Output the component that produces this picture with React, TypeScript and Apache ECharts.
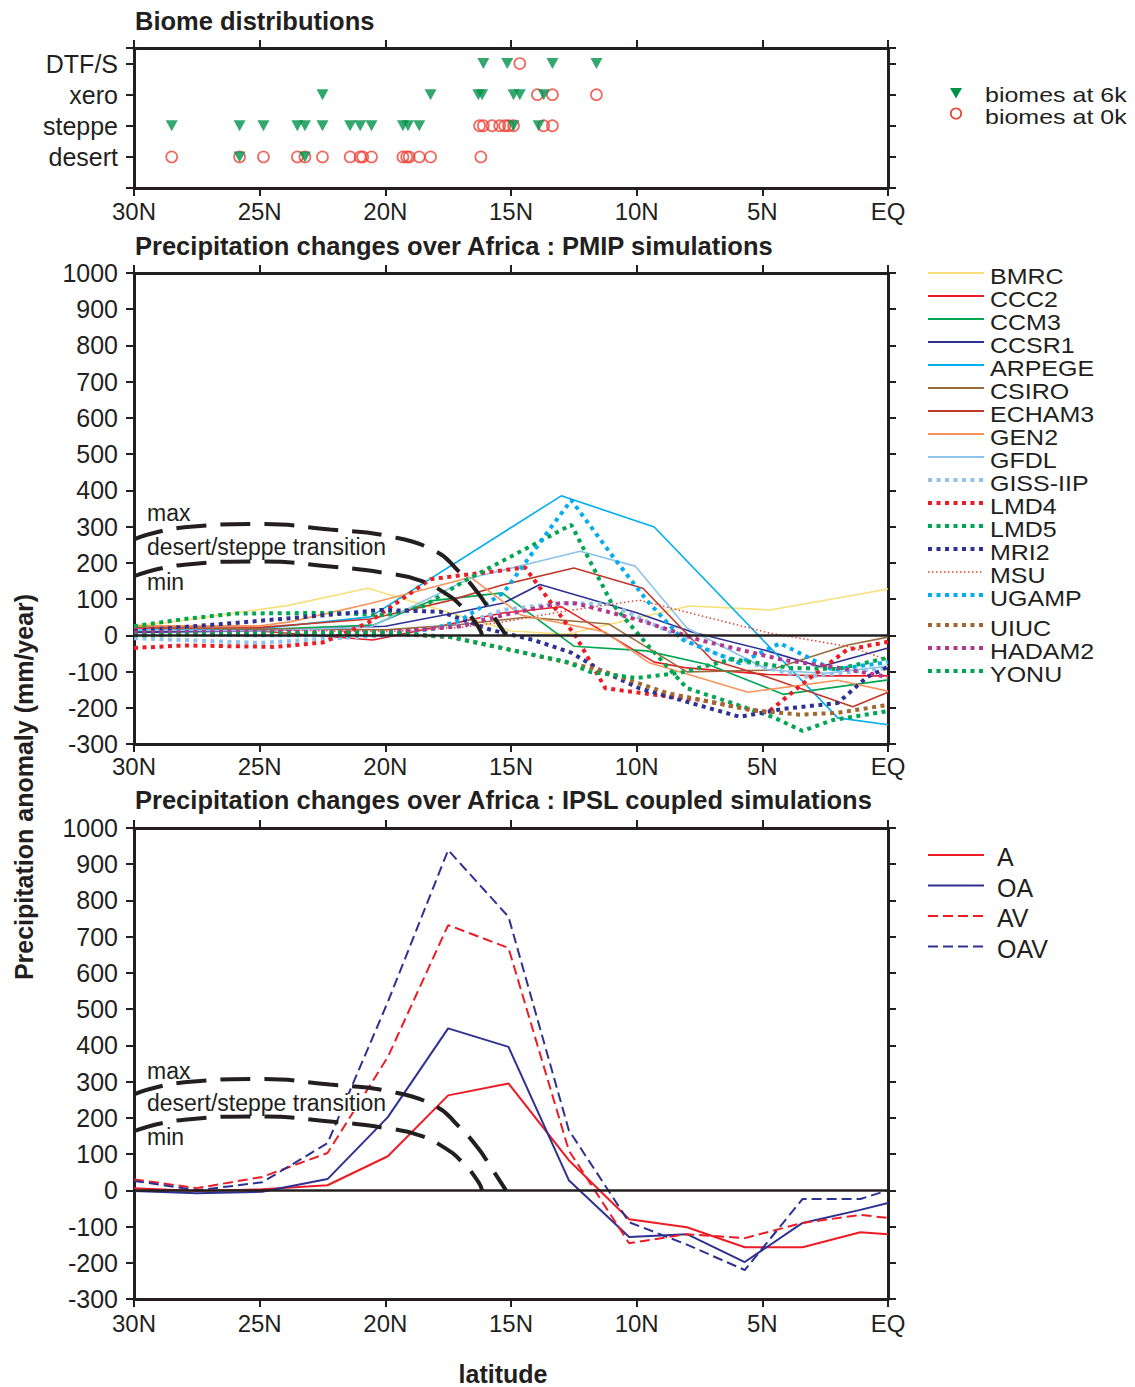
import React, { useEffect, useRef } from 'react';
import * as echarts from 'echarts';

// ---------- axis ticks / categories ----------
const BIOME_LEVELS = ['desert', 'steppe', 'xero', 'DTF/S'];
const LAT_LABEL = (v: number) => (v === 0 ? 'EQ' : v + 'N');

// ---------- top panel: latitude of each site, per biome level ----------
const DTFS_6K = [16.1, 15.15, 13.35, 11.6];
const DTFS_0K = [14.65];
const XERO_6K = [22.5, 18.2, 16.3, 16.15, 14.9, 14.65, 13.7];
const XERO_0K = [13.95, 13.35, 11.6];
const STEPPE_6K = [28.5, 25.8, 24.85, 23.5, 23.2, 22.5, 21.4, 21.0, 20.55, 19.3, 19.1, 18.65, 14.9, 13.9];
const STEPPE_0K = [16.25, 16.1, 15.75, 15.45, 15.25, 15.1, 14.9, 13.7, 13.35];
const DESERT_6K = [25.8, 23.2];
const DESERT_0K = [28.5, 25.8, 24.85, 23.5, 23.2, 22.5, 21.4, 21.0, 20.9, 20.55, 19.3, 19.15, 19.05, 18.65, 18.2, 16.2];

// ---------- middle panel: PMIP simulations [lat, mm/yr] ----------
const BMRC = [[30, 28], [28.7, 35], [23.9, 82], [20.7, 130], [15, 12], [12.8, 3], [7.9, 81], [4.7, 70], [1.6, 108], [0, 128]];
const CCC2 = [[30, 20], [25, 12], [20.5, -13], [18.5, 15], [15.4, 61], [13, 79], [9.3, -74], [8, -90], [4.8, -108], [2.5, -112], [0, -112]];
const CCM3 = [[30, 10], [25, 16], [20.5, 28], [18.2, 95], [15.35, 117], [12.5, -30], [9.6, -43], [7.1, -82], [4.17, -163], [0, -123]];
const CCSR1 = [[30, 8], [25, 12], [20, 25], [17.3, 61], [15.3, 89], [13.85, 140], [10, 62], [7.8, 9], [4.8, -43], [2.7, -87], [0, -35]];
const ARPEGE = [[30, 15], [25, 18], [20.6, 51], [13, 385], [9.3, 299], [2, -228], [0, -247]];
const CSIRO = [[30, 22], [25, 18], [20, 15], [17, 30], [14.4, 50], [11.1, 31], [8, -101], [4.7, -96], [1.6, -27], [0, -5]];
const ECHAM3 = [[30, 25], [25, 22], [20.6, 45], [17.5, 95], [15.35, 139], [12.5, 186], [9.75, 130], [7, -68], [4.8, -115], [1.4, -197], [0, -157]];
const GEN2 = [[30, 26], [25, 26], [23.8, 37], [20.6, 88], [16.6, 160], [14.6, 56], [11.25, 9], [9.5, -76], [5.57, -157], [2, -124], [0, -154]];
const GFDL = [[30, 15], [25, 12], [20.6, 23], [16.6, 158], [12.25, 232], [10.06, 191], [8, 20], [4.8, -95], [2.5, -105], [0, -85]];
const GISS_IIP = [[30, -8], [25, -21], [20, 0], [17, 30], [15.3, 70], [13, 89], [11.06, 86], [6.7, -55], [3.4, -115], [0, -90]];
const LMD4 = [[30, -35], [28, -28], [24.4, -32], [22.5, -20], [20.7, 34], [18.2, 155], [14.44, 187], [12.4, -5], [11.25, -146], [9.2, -165], [7.5, -178], [4.8, -214], [3.2, -123], [1.63, -40], [0, -18]];
const LMD5 = [[30, 25], [28, 45], [26, 60], [22, 62], [20, 55], [18.5, 80], [16.8, 152], [12.6, 305], [11, 89], [9.5, -32], [8, -146], [6.2, -187], [4.6, -225], [3.4, -264], [2.2, -234], [0, -209]];
const MRI2 = [[30, 12], [26, 34], [21.5, 61], [20.2, 70], [17.8, 65], [15.8, 15], [14.1, -13], [12.6, -48], [11.45, -96], [9.9, -146], [5.9, -225], [4.17, -203], [2, -187], [0.83, -115], [0, -87]];
const MSU = [[30, 20], [25, 15], [20, 10], [17, 22], [15.3, 37], [13, 65], [9.9, 97], [4.7, 6], [1.5, -32], [0, -68]];
const UGAMP = [[30, 5], [25, 0], [20, 0], [18, 20], [17, 42], [15.3, 117], [13.4, 299], [12.6, 373], [10.9, 213], [9.6, 97], [8.15, -13], [5.9, -77], [4.3, -22], [2.2, -95], [0, -74]];
const UIUC = [[30, 5], [25, 3], [20, 5], [17.4, -5], [15.3, -36], [12.65, -77], [11.45, -96], [8.8, -159], [5.5, -206], [3.5, -219], [2, -214], [0, -192]];
const HADAM2 = [[30, 8], [25, 10], [20, 8], [17, 25], [15.3, 56], [13, 89], [12.4, 88], [9.9, 42], [7.5, -13], [4.17, -68], [2.2, -87], [0, -115]];
const YONU = [[30, 0], [25, 5], [20, 8], [17.4, -5], [15.3, -36], [12.8, -73], [11.85, -101], [10, -118], [8.3, -104], [6.2, -66], [3.9, -90], [2, -93], [0, -62]];

const PMIP_NAMES = ['BMRC', 'CCC2', 'CCM3', 'CCSR1', 'ARPEGE', 'CSIRO', 'ECHAM3', 'GEN2', 'GFDL', 'GISS-IIP', 'LMD4', 'LMD5', 'MRI2', 'MSU', 'UGAMP', 'UIUC', 'HADAM2', 'YONU'];
const PMIP_DATA = [BMRC, CCC2, CCM3, CCSR1, ARPEGE, CSIRO, ECHAM3, GEN2, GFDL, GISS_IIP, LMD4, LMD5, MRI2, MSU, UGAMP, UIUC, HADAM2, YONU];
const PMIP_COLORS = ['#f7e07a', '#ed1c24', '#00a651', '#2e3192', '#00aeef', '#9a6b3c', '#c0392b', '#f7945d', '#8fc3ea', '#8fc3ea', '#ed1c24', '#00a651', '#2e3192', '#e2442f', '#00aeef', '#a0672f', '#b0388e', '#00a651'];
// 's' solid, 'd' dotted (thick squares), 'f' fine dots
const PMIP_STYLE = ['s', 's', 's', 's', 's', 's', 's', 's', 's', 'd', 'd', 'd', 'd', 'f', 'd', 'd', 'd', 'd'];

// ---------- desert/steppe transition curves [lat, mm/yr] ----------
const TRANS_MAX = [[30, 265], [28, 298], [25, 307], [22.2, 292], [19.9, 274], [18, 232], [17.1, 178], [16.35, 120], [15.8, 64], [15.2, 0]];
const TRANS_MIN = [[30, 163], [28, 195], [25, 204], [22.2, 190], [19.9, 171], [18.7, 153], [17.7, 120], [16.9, 75], [16.3, 23], [16.15, 0]];

// ---------- bottom panel: IPSL coupled simulations ----------
const IPSL_LAT = [30, 27.5, 24.9, 22.3, 19.9, 17.5, 15.1, 12.7, 10.3, 8.0, 5.7, 3.4, 1.1, 0];
const IPSL_A = [6, -2, 3, 14, 94, 262, 295, 83, -80, -102, -157, -157, -116, -121];
const IPSL_OA = [-2, -8, -4, 31, 202, 447, 396, 28, -129, -121, -198, -90, -54, -35];
const IPSL_AV = [30, 6, 37, 103, 368, 732, 669, 110, -146, -121, -132, -90, -68, -76];
const IPSL_OAV = [26, 0, 22, 130, 520, 939, 755, 166, -88, -150, -220, -24, -24, 0];
const IPSL_NAMES = ['A', 'OA', 'AV', 'OAV'];
const IPSL_SERIES = [IPSL_A, IPSL_OA, IPSL_AV, IPSL_OAV];
const IPSL_COLORS = ['#ed1c24', '#2e3192', '#ed1c24', '#2e3192'];
const IPSL_DASHED = [false, false, true, true];

const INK = '#231f20';
const FONT = "'Liberation Sans', Arial, Helvetica, sans-serif";

function lineTypeOf(s: string) {
  if (s === 'd') return { width: 4, type: [4, 4.5] as any };
  if (s === 'f') return { width: 1.5, type: [1.5, 2.5] as any };
  return { width: 1.6, type: 'solid' as any };
}

function textEl(x: number, y: number, text: string, size: number, opts: any = {}) {
  const align = opts.align || 'left';
  return {
    type: 'text',
    x, y,
    rotation: opts.rotation || 0,
    scaleX: opts.scaleX || 1,
    scaleY: opts.scaleY || 1,
    z: 100,
    style: {
      text,
      fill: INK,
      fontSize: size,
      fontFamily: FONT,
      fontWeight: opts.bold ? 'bold' : 'normal',
      align, textAlign: align,
      verticalAlign: 'middle', textVerticalAlign: 'middle',
      backgroundColor: opts.bg,
      padding: opts.bg ? [0, 1] : undefined,
      lineHeight: opts.lineHeight,
    },
  };
}

function buildOption() {
  const grids = [
    { left: 134, top: 48, width: 754, height: 140 },
    { left: 134, top: 273, width: 754, height: 471 },
    { left: 134, top: 828, width: 754, height: 471 },
  ];
  const labelMargins = [11, 10, 12];

  const xAxes: any[] = [];
  const yAxes: any[] = [];
  grids.forEach((_, gi) => {
    ['bottom', 'top'].forEach((pos) => {
      xAxes.push({
        type: 'value', gridIndex: gi, position: pos, min: 0, max: 30, interval: 5, inverse: true,
        axisLine: { show: true, onZero: false, lineStyle: { color: INK, width: 3 } },
        axisTick: { show: true, inside: false, length: 8, lineStyle: { color: INK, width: 2 } },
        axisLabel: { show: pos === 'bottom', formatter: LAT_LABEL, margin: labelMargins[gi], fontSize: 24, color: INK, fontFamily: FONT },
        splitLine: { show: false },
      });
    });
    ['left', 'right'].forEach((pos) => {
      const base: any = gi === 0
        ? { min: -1, max: 3.5, interval: 1, formatter: (v: number) => (BIOME_LEVELS[v] !== undefined ? BIOME_LEVELS[v] : '') }
        : { min: -300, max: 1000, interval: 100, formatter: (v: number) => String(v) };
      yAxes.push({
        type: 'value', gridIndex: gi, position: pos, min: base.min, max: base.max, interval: base.interval,
        axisLine: { show: true, onZero: false, lineStyle: { color: INK, width: 3 } },
        axisTick: { show: true, inside: false, length: 8, lineStyle: { color: INK, width: 2 } },
        axisLabel: { show: pos === 'left', formatter: base.formatter, margin: 16, fontSize: 25, color: INK, fontFamily: FONT },
        splitLine: { show: false },
      });
    });
  });

  const series: any[] = [];

  // top panel scatter
  const circles = [
    ...DESERT_0K.map((l) => [l, 0]), ...STEPPE_0K.map((l) => [l, 1]),
    ...XERO_0K.map((l) => [l, 2]), ...DTFS_0K.map((l) => [l, 3]),
  ];
  const triangles = [
    ...DESERT_6K.map((l) => [l, 0]), ...STEPPE_6K.map((l) => [l, 1]),
    ...XERO_6K.map((l) => [l, 2]), ...DTFS_6K.map((l) => [l, 3]),
  ];
  series.push({
    type: 'scatter', name: 'biomes at 0k', xAxisIndex: 0, yAxisIndex: 0, data: circles,
    symbol: 'circle', symbolSize: 11,
    itemStyle: { color: 'rgba(255,255,255,0)', borderColor: '#ef4136', borderWidth: 1.7 }, z: 2,
  });
  series.push({
    type: 'scatter', name: 'biomes at 6k', xAxisIndex: 0, yAxisIndex: 0, data: triangles,
    symbol: 'triangle', symbolRotate: 180, symbolSize: [12, 11],
    itemStyle: { color: '#00924a' }, z: 3,
  });

  // middle panel
  PMIP_NAMES.forEach((name, i) => {
    const lt = lineTypeOf(PMIP_STYLE[i]);
    const s: any = {
      type: 'line', name, xAxisIndex: 2, yAxisIndex: 2, data: PMIP_DATA[i],
      symbol: 'none', showSymbol: false,
      lineStyle: { color: PMIP_COLORS[i], width: lt.width, type: lt.type, cap: 'butt' },
      z: 2,
    };
    if (i === 0) {
      s.markLine = {
        silent: true, symbol: 'none', label: { show: false },
        lineStyle: { color: INK, width: 2.5, type: 'solid' },
        data: [{ yAxis: 0 }],
      };
    }
    series.push(s);
  });

  // transition curves in middle and bottom panels
  [2, 4].forEach((ai) => {
    [TRANS_MAX, TRANS_MIN].forEach((d) => {
      series.push({
        type: 'line', xAxisIndex: ai, yAxisIndex: ai, data: d, smooth: 0.5,
        symbol: 'none', showSymbol: false,
        lineStyle: { color: INK, width: 4, type: [30, 14] as any, cap: 'butt' }, z: 5,
      });
    });
  });

  // bottom panel
  IPSL_NAMES.forEach((name, i) => {
    const s: any = {
      type: 'line', name, xAxisIndex: 4, yAxisIndex: 4,
      data: IPSL_LAT.map((l, k) => [l, IPSL_SERIES[i][k]]),
      symbol: 'none', showSymbol: false,
      lineStyle: { color: IPSL_COLORS[i], width: 2, type: IPSL_DASHED[i] ? ([10, 5] as any) : 'solid' },
      z: 3,
    };
    if (i === 0) {
      s.markLine = {
        silent: true, symbol: 'none', label: { show: false },
        lineStyle: { color: INK, width: 2.5, type: 'solid' },
        data: [{ yAxis: 0 }],
      };
    }
    series.push(s);
  });

  // ---------- graphics: titles, labels, legends ----------
  const g: any[] = [];
  g.push(textEl(135, 21, 'Biome distributions', 25.5, { bold: true }));
  g.push(textEl(135, 246, 'Precipitation changes over Africa : PMIP simulations', 25.5, { bold: true }));
  g.push(textEl(135, 800, 'Precipitation changes over Africa : IPSL coupled simulations', 25.5, { bold: true }));
  g.push(textEl(24, 787, 'Precipitation anomaly (mm/year)', 25, { bold: true, align: 'center', rotation: Math.PI / 2 }));
  g.push(textEl(503, 1374, 'latitude', 25, { bold: true, align: 'center' }));

  // transition annotations
  [[513, 547, 582], [1071, 1103, 1137]].forEach(([y1, y2, y3]) => {
    g.push(textEl(147, y1, 'max', 23, { lineHeight: 20 }));
    g.push(textEl(146, y2, 'desert/steppe transition', 23, { bg: '#ffffff', lineHeight: 18 }));
    g.push(textEl(147, y3, 'min', 23, { lineHeight: 20 }));
  });

  // biome legend (compact glyphs, widened to match the reference width)
  g.push({ type: 'polygon', z: 100, shape: { points: [[950, 88], [962, 88], [956, 98.5]] }, style: { fill: '#00924a' } });
  g.push(textEl(985, 95, 'biomes at 6k', 19, { lineHeight: 19, scaleX: 25 / 19, scaleY: 1.1 }));
  g.push({ type: 'circle', z: 100, shape: { cx: 956, cy: 113.5, r: 5.2 }, style: { fill: 'none', stroke: '#ef4136', lineWidth: 1.7 } });
  g.push(textEl(985, 117, 'biomes at 0k', 19, { lineHeight: 19, scaleX: 25 / 19, scaleY: 1.1 }));

  // PMIP legend
  PMIP_NAMES.forEach((name, i) => {
    const y = 273 + 23 * i + (i >= 15 ? 7 : 0);
    const lt = lineTypeOf(PMIP_STYLE[i]);
    g.push({
      type: 'line', z: 100, shape: { x1: 928, y1: y, x2: 984, y2: y },
      style: { stroke: PMIP_COLORS[i], lineWidth: lt.width === 1.6 ? 2 : lt.width, lineDash: lt.type === 'solid' ? null : lt.type, lineCap: 'butt' },
    });
    g.push(textEl(990, y + 3, name, 20, { lineHeight: 20, scaleX: 25 / 20, scaleY: 1.12 }));
  });

  // IPSL legend
  IPSL_NAMES.forEach((name, i) => {
    const y = 855 + 30.5 * i;
    g.push({
      type: 'line', z: 100, shape: { x1: 928, y1: y, x2: 984, y2: y },
      style: { stroke: IPSL_COLORS[i], lineWidth: 2, lineDash: IPSL_DASHED[i] ? [10, 5] : null },
    });
    g.push(textEl(997, y + 2, name, 25, { lineHeight: 22 }));
  });

  return {
    animation: false,
    backgroundColor: '#ffffff',
    textStyle: { fontFamily: FONT },
    grid: grids,
    xAxis: xAxes,
    yAxis: yAxes,
    series,
    graphic: g,
  };
}

export default function App() {
  const ref = useRef<HTMLDivElement>(null);
  useEffect(() => {
    if (!ref.current) return;
    const chart = echarts.init(ref.current, undefined, { renderer: 'svg' });
    chart.setOption(buildOption() as any);
    return () => chart.dispose();
  }, []);
  return <div ref={ref} style={{ position: 'absolute', left: 0, top: 0, width: 1135, height: 1387, background: '#fff' }} />;
}
